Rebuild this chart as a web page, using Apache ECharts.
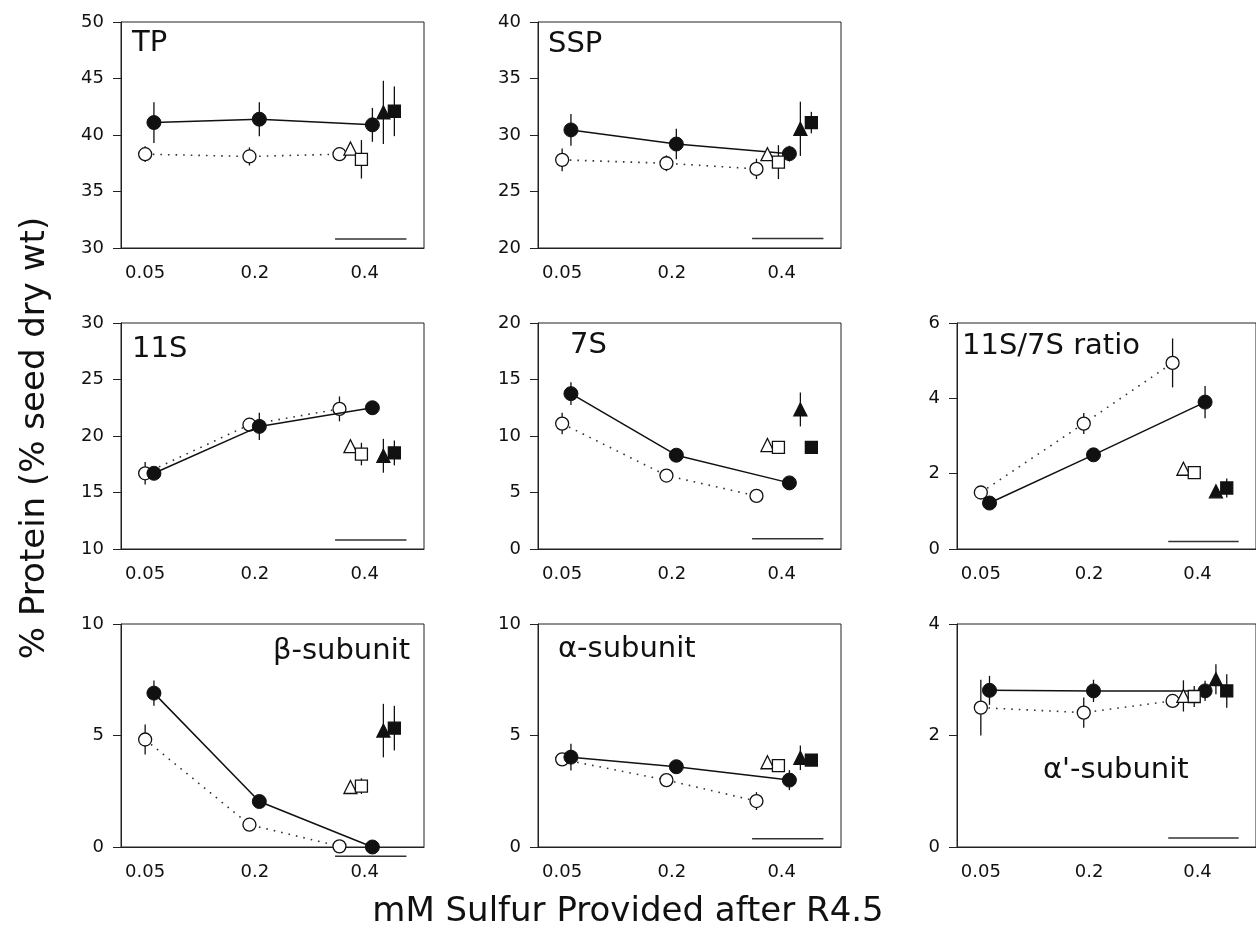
<!DOCTYPE html>
<html>
<head>
<meta charset="utf-8">
<script src="https://cdn.jsdelivr.net/npm/echarts@6/dist/echarts.min.js"></script>
<style>
html,body{margin:0;padding:0;background:#fff;}
#chart{width:1256px;height:949px;}
</style>
</head>
<body>
<div id="chart"></div>
<script>
// ---------- DATA ----------
const xTickLabels = ['0.05', '0.2', '0.4'];
// horizontal placement (in tick-index units) of each symbol group
const xOpen = [0.0, 0.95, 1.77];
const xFilled = [0.08, 1.04, 2.07];
const xExtra = [1.87, 1.97, 2.17, 2.27]; // open triangle, open square, filled triangle, filled square
const segX = [1.73, 2.38];

const TP_open = [38.3, 38.1, 38.3];      const TP_openErr = [0.7, 0.8, 0.6];
const TP_filled = [41.1, 41.4, 40.9];    const TP_filledErr = [1.8, 1.5, 1.5];
const TP_extra = [38.8, 37.85, 42.0, 42.1]; const TP_extraErr = [0.3, 1.7, 2.8, 2.2];
const TP_seg = 30.8;

const SSP_open = [27.8, 27.5, 27.0];     const SSP_openErr = [1.0, 0.7, 0.9];
const SSP_filled = [30.45, 29.2, 28.35]; const SSP_filledErr = [1.4, 1.35, 0.7];
const SSP_extra = [28.3, 27.6, 30.55, 31.1]; const SSP_extraErr = [0.3, 1.5, 2.4, 0.95];
const SSP_seg = 20.85;

const S11_open = [16.7, 21.0, 22.4];     const S11_openErr = [1.0, 0.6, 1.1];
const S11_filled = [16.7, 20.85, 22.5];  const S11_filledErr = [0.5, 1.2, 0.3];
const S11_extra = [19.1, 18.4, 18.25, 18.5]; const S11_extraErr = [0.3, 1.0, 1.5, 1.1];
const S11_seg = 10.8;

const S7_open = [11.1, 6.5, 4.7];        const S7_openErr = [0.95, 0.3, 0.3];
const S7_filled = [13.75, 8.3, 5.85];    const S7_filledErr = [1.0, 0.4, 0.3];
const S7_extra = [9.2, 9.0, 12.35, 9.0]; const S7_extraErr = [0.3, 0.3, 1.5, 0.3];
const S7_seg = 0.9;

const RAT_open = [1.5, 3.33, 4.94];      const RAT_openErr = [0.1, 0.28, 0.65];
const RAT_filled = [1.22, 2.5, 3.9];     const RAT_filledErr = [0.1, 0.15, 0.43];
const RAT_extra = [2.13, 2.03, 1.53, 1.62]; const RAT_extraErr = [0.08, 0.1, 0.15, 0.25];
const RAT_seg = 0.2;

const BETA_open = [4.82, 1.0, 0.03];     const BETA_openErr = [0.67, 0.1, 0.05];
const BETA_filled = [6.9, 2.04, 0.0];    const BETA_filledErr = [0.57, 0.1, 0.05];
const BETA_extra = [2.69, 2.73, 5.22, 5.33]; const BETA_extraErr = [0.1, 0.35, 1.2, 1.0];
const BETA_seg = -0.42;

const ALPHA_open = [3.93, 3.0, 2.06];    const ALPHA_openErr = [0.2, 0.15, 0.4];
const ALPHA_filled = [4.03, 3.6, 3.0];   const ALPHA_filledErr = [0.6, 0.15, 0.45];
const ALPHA_extra = [3.8, 3.65, 4.0, 3.9]; const ALPHA_extraErr = [0.15, 0.15, 0.55, 0.15];
const ALPHA_seg = 0.37;

const ALPHAP_open = [2.5, 2.41, 2.62];   const ALPHAP_openErr = [0.5, 0.27, 0.08];
const ALPHAP_filled = [2.81, 2.8, 2.8];  const ALPHAP_filledErr = [0.26, 0.2, 0.18];
const ALPHAP_extra = [2.71, 2.7, 3.01, 2.8]; const ALPHAP_extraErr = [0.28, 0.19, 0.27, 0.3];
const ALPHAP_seg = 0.16;

const panelTitles = ['TP', 'SSP', '11S', '7S', '11S/7S ratio', 'β-subunit', 'α-subunit', "α'-subunit"];
const yRanges = [[30, 50, 5], [20, 40, 5], [10, 30, 5], [0, 20, 5], [0, 6, 2], [0, 10, 5], [0, 10, 5], [0, 4, 2]];

const xAxisTitle = 'mM Sulfur Provided after R4.5';
const yAxisTitle = '% Protein (% seed dry wt)';

// ---------- LAYOUT ----------
const FONT = 'DejaVu Sans';
const colLeft = [121, 538, 957];
const rowTop = [22, 323, 624];
const rowH = [226, 226, 223];
const gridW = 303;
const panelPos = [[0,0],[1,0],[0,1],[1,1],[2,1],[0,2],[1,2],[2,2]];
const titlePos = [[132,43],[548,44],[132,349],[570,345],[962,346],[273,651],[558,649],[1043,770]];

const panelData = [
  [TP_open, TP_openErr, TP_filled, TP_filledErr, TP_extra, TP_extraErr, TP_seg],
  [SSP_open, SSP_openErr, SSP_filled, SSP_filledErr, SSP_extra, SSP_extraErr, SSP_seg],
  [S11_open, S11_openErr, S11_filled, S11_filledErr, S11_extra, S11_extraErr, S11_seg],
  [S7_open, S7_openErr, S7_filled, S7_filledErr, S7_extra, S7_extraErr, S7_seg],
  [RAT_open, RAT_openErr, RAT_filled, RAT_filledErr, RAT_extra, RAT_extraErr, RAT_seg],
  [BETA_open, BETA_openErr, BETA_filled, BETA_filledErr, BETA_extra, BETA_extraErr, BETA_seg],
  [ALPHA_open, ALPHA_openErr, ALPHA_filled, ALPHA_filledErr, ALPHA_extra, ALPHA_extraErr, ALPHA_seg],
  [ALPHAP_open, ALPHAP_openErr, ALPHAP_filled, ALPHAP_filledErr, ALPHAP_extra, ALPHAP_extraErr, ALPHAP_seg]
];

const grids = [], xAxes = [], yAxes = [], series = [], graphics = [];
const INK = '#111';

function errRender(params, api) {
  const x = api.value(0);
  const p1 = api.coord([x, api.value(1)]);
  const p2 = api.coord([x, api.value(2)]);
  return {
    type: 'line',
    shape: { x1: p1[0], y1: p1[1], x2: p2[0], y2: p2[1] },
    style: { stroke: INK, lineWidth: 1.3 }
  };
}

panelData.forEach((pd, i) => {
  const [col, row] = panelPos[i];
  const [ymin, ymax, step] = yRanges[i];
  const [open, openErr, filled, filledErr, extra, extraErr, seg] = pd;
  grids.push({
    left: colLeft[col], top: rowTop[row], width: gridW, height: rowH[row],
    show: true, borderColor: '#222', borderWidth: 1, backgroundColor: 'transparent'
  });
  xAxes.push({
    type: 'value', gridIndex: i, min: -0.22, max: 2.54,
    axisLine: { show: true, onZero: false, lineStyle: { color: '#222', width: 1 } },
    axisTick: { show: false },
    splitLine: { show: false },
    axisLabel: {
      customValues: [0, 1, 2],
      formatter: v => xTickLabels[Math.round(v)],
      fontFamily: FONT, fontSize: 18, color: INK, margin: 16
    }
  });
  yAxes.push({
    type: 'value', gridIndex: i, min: ymin, max: ymax, interval: step,
    axisLine: { show: true, onZero: false, lineStyle: { color: '#222', width: 1 } },
    axisTick: { show: true, length: 8, inside: false, lineStyle: { color: '#222' } },
    splitLine: { show: false },
    axisLabel: { fontFamily: FONT, fontSize: 18, color: INK, margin: 17 }
  });

  // error bars
  const errData = [];
  open.forEach((v, k) => errData.push([xOpen[k], v - openErr[k], v + openErr[k]]));
  filled.forEach((v, k) => errData.push([xFilled[k], v - filledErr[k], v + filledErr[k]]));
  extra.forEach((v, k) => errData.push([xExtra[k], v - extraErr[k], v + extraErr[k]]));
  series.push({
    type: 'custom', xAxisIndex: i, yAxisIndex: i, renderItem: errRender,
    encode: { x: 0, y: [1, 2] }, data: errData, z: 2, silent: true
  });

  // bottom-right reference segment
  series.push({
    type: 'line', xAxisIndex: i, yAxisIndex: i, clip: false, symbol: 'none',
    data: [[segX[0], seg], [segX[1], seg]],
    lineStyle: { color: '#333', width: 1.5 }, z: 2, silent: true
  });

  // open circles, dotted
  series.push({
    type: 'line', xAxisIndex: i, yAxisIndex: i, clip: false,
    data: open.map((v, k) => [xOpen[k], v]),
    symbol: 'circle', symbolSize: 13, showSymbol: true,
    itemStyle: { color: '#fff', borderColor: INK, borderWidth: 1.3, opacity: 1 },
    lineStyle: { color: '#333', width: 1.6, type: [1.6, 6] }, z: 3, silent: true
  });
  // filled circles, solid
  series.push({
    type: 'line', xAxisIndex: i, yAxisIndex: i, clip: false,
    data: filled.map((v, k) => [xFilled[k], v]),
    symbol: 'circle', symbolSize: 14, showSymbol: true,
    itemStyle: { color: INK, borderColor: INK, borderWidth: 1, opacity: 1 },
    lineStyle: { color: INK, width: 1.5 }, z: 4, silent: true
  });
  // extra symbols
  const extraStyle = [
    { symbol: 'triangle', size: 13, fill: '#fff' },
    { symbol: 'rect', size: 12, fill: '#fff' },
    { symbol: 'triangle', size: 13, fill: INK },
    { symbol: 'rect', size: 12, fill: INK }
  ];
  extra.forEach((v, k) => {
    series.push({
      type: 'scatter', xAxisIndex: i, yAxisIndex: i, clip: false,
      data: [[xExtra[k], v]],
      symbol: extraStyle[k].symbol, symbolSize: extraStyle[k].size,
      itemStyle: { color: extraStyle[k].fill, borderColor: INK, borderWidth: 1.3, opacity: 1 },
      z: 5, silent: true
    });
  });

  graphics.push({
    type: 'text', x: titlePos[i][0], y: titlePos[i][1],
    style: { text: panelTitles[i], fontFamily: FONT, fontSize: 29, fill: INK, textAlign: 'left', textVerticalAlign: 'middle' },
    z: 10
  });
});

graphics.push({
  type: 'text', x: 628, y: 912,
  style: { text: xAxisTitle, fontFamily: FONT, fontSize: 34, fill: INK, textAlign: 'center', textVerticalAlign: 'middle' }
});
graphics.push({
  type: 'text', x: 35, y: 438, rotation: Math.PI / 2,
  style: { text: yAxisTitle, fontFamily: FONT, fontSize: 34, fill: INK, textAlign: 'center', textVerticalAlign: 'middle' }
});

const chart = echarts.init(document.getElementById('chart'), null, { renderer: 'canvas' });
chart.setOption({
  animation: false,
  backgroundColor: '#fff',
  grid: grids,
  xAxis: xAxes,
  yAxis: yAxes,
  series: series,
  graphic: graphics
});
</script>
</body>
</html>
